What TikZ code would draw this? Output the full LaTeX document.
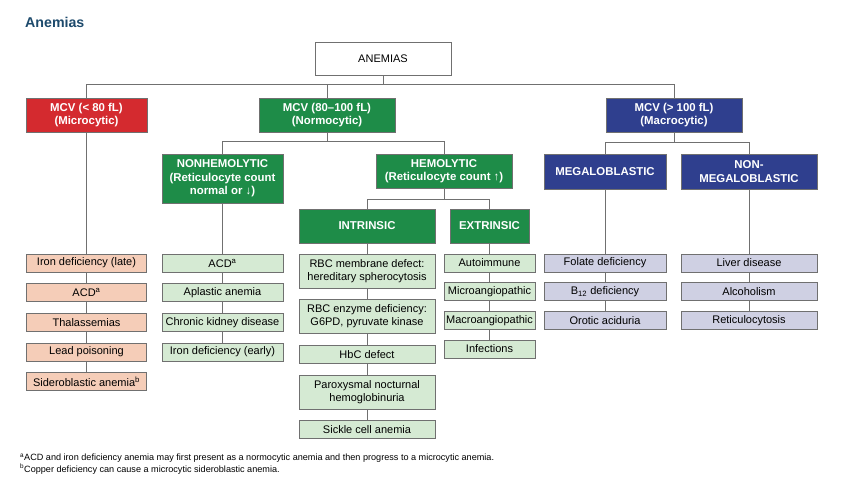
\documentclass[tikz,border=0pt]{standalone}
\usepackage{fontspec}
\setmainfont{Liberation Sans}
\usetikzlibrary{positioning, calc, backgrounds}

\definecolor{micred}{RGB}{212,42,47}
\definecolor{norgreen}{RGB}{30,140,72}
\definecolor{macblue}{RGB}{47,63,142}
\definecolor{micfill}{RGB}{245,205,184}
\definecolor{norfill}{RGB}{213,234,211}
\definecolor{macfill}{RGB}{207,208,227}
\definecolor{edgegray}{RGB}{112,112,112}
\definecolor{titleblue}{RGB}{29,74,108}

\begin{document}
\begin{tikzpicture}[
  x=1pt, y=-1pt,
  font=\fontsize{11}{13}\selectfont,
  node distance=11pt,
  box/.style={rectangle, draw=edgegray, line width=0.6pt, align=center,
              inner xsep=0.5pt, inner ysep=1pt},
  hdr/.style={box, text=white, font=\fontsize{11.4}{13.5}\selectfont\bfseries,
              minimum height=34pt},
  micbox/.style={hdr, fill=micred},
  norbox/.style={hdr, fill=norgreen},
  macbox/.style={hdr, fill=macblue},
  item/.style={box, minimum height=18pt},
  micitem/.style={item, fill=micfill, minimum width=120pt},
  noritem/.style={item, fill=norfill},
  macitem/.style={item, fill=macfill},
  conn/.style={draw=edgegray, line width=0.7pt},
]
\useasboundingbox (0,0) rectangle (844,487);
\node (title) [anchor=west, inner sep=0pt, text=titleblue,
  font=\fontsize{14.2}{16}\selectfont\bfseries] at (25,22) {Anemias};
% top level
\node (anemias) [box, fill=white, minimum width=136pt, minimum height=33pt]
  at (383,58.5) {ANEMIAS};
\node (micro) [micbox, minimum width=121pt] at (86.5,115)
  {MCV (< 80 fL)\\(Microcytic)};
\node (normo) [norbox, minimum width=136pt] at (327,115)
  {MCV (80--100 fL)\\(Normocytic)};
\node (macro) [macbox, minimum width=136pt] at (674,115)
  {MCV (> 100 fL)\\(Macrocytic)};
% second level
\node (nonhemo) [norbox, minimum width=121pt, minimum height=49pt]
  at (222.5,178.5) {NONHEMOLYTIC\\(Reticulocyte count\\normal or ↓)};
\node (hemo) [norbox, minimum width=136pt] at (444,171)
  {HEMOLYTIC\\(Reticulocyte count ↑)};
\node (intrinsic) [norbox, minimum width=136pt] at (367,226) {INTRINSIC};
\node (extrinsic) [norbox, minimum width=79pt] at (489.5,226) {EXTRINSIC};
\node (mega) [macbox, minimum width=122pt, minimum height=35pt]
  at (605,171.5) {MEGALOBLASTIC};
\node (nonmega) [macbox, minimum width=136pt, minimum height=35pt]
  at (749,171.5) {NON-\\MEGALOBLASTIC};
% microcytic list
\node (mic1) [micitem] at (86.5,263) {Iron deficiency (late)};
\node (mic2) [micitem, below=of mic1] {ACD\textsuperscript{a}};
\node (mic3) [micitem, below=of mic2] {Thalassemias};
\node (mic4) [micitem, below=of mic3] {Lead poisoning};
\node (mic5) [micitem, below=of mic4] {Sideroblastic anemia\textsuperscript{b}};
% nonhemolytic list
\node (non1) [noritem, minimum width=121pt] at (222.5,263) {ACD\textsuperscript{a}};
\node (non2) [noritem, minimum width=121pt, below=of non1] {Aplastic anemia};
\node (non3) [noritem, minimum width=121pt, below=of non2] {Chronic kidney disease};
\node (non4) [noritem, minimum width=121pt, below=of non3] {Iron deficiency (early)};
% intrinsic list
\node (int1) [noritem, minimum width=136pt, minimum height=34pt] at (367,271)
  {RBC membrane defect:\\hereditary spherocytosis};
\node (int2) [noritem, minimum width=136pt, minimum height=34pt, below=of int1]
  {RBC enzyme deficiency:\\G6PD, pyruvate kinase};
\node (int3) [noritem, minimum width=136pt, below=of int2] {HbC defect};
\node (int4) [noritem, minimum width=136pt, minimum height=34pt, below=of int3]
  {Paroxysmal nocturnal\\hemoglobinuria};
\node (int5) [noritem, minimum width=136pt, below=of int4] {Sickle cell anemia};
% extrinsic list
\node (ext1) [noritem, minimum width=91pt] at (489.5,263) {Autoimmune};
\node (ext2) [noritem, minimum width=91pt, below=10pt of ext1] {Microangiopathic};
\node (ext3) [noritem, minimum width=91pt, below=10pt of ext2] {Macroangiopathic};
\node (ext4) [noritem, minimum width=91pt, below=10pt of ext3] {Infections};
% megaloblastic / non-megaloblastic lists
\node (meg1) [macitem, minimum width=122pt] at (605,263) {Folate deficiency};
\node (meg2) [macitem, minimum width=122pt, below=10pt of meg1]
  {B\textsubscript{12} deficiency};
\node (meg3) [macitem, minimum width=122pt, below=10pt of meg2] {Orotic aciduria};
\node (nmg1) [macitem, minimum width=136pt] at (749,263) {Liver disease};
\node (nmg2) [macitem, minimum width=136pt, below=10pt of nmg1] {Alcoholism};
\node (nmg3) [macitem, minimum width=136pt, below=10pt of nmg2] {Reticulocytosis};
% footnotes
\node (notes) [anchor=north west, align=left, inner sep=0pt,
  font=\fontsize{9.1}{11.8}\selectfont] at (20,453.5)
  {\textsuperscript{a}ACD and iron deficiency anemia may first present as a
   normocytic anemia and then progress to a microcytic anemia.\\
   \textsuperscript{b}Copper deficiency can cause a microcytic sideroblastic anemia.};
% branches
\coordinate (bus) at ($(anemias.south)+(0,9.5)$);
\draw [conn] (anemias.south) -- (bus);
\draw [conn] (micro.north) |- (bus) -| (macro.north);
\draw [conn] (normo.north) -- (normo.north |- bus);
\coordinate (nbus) at ($(normo.south)+(0,9)$);
\draw [conn] (normo.south) -- (nbus);
\draw [conn] (nonhemo.north) |- (nbus) -| (hemo.north);
\coordinate (hbus) at ($(hemo.south)+(0,11)$);
\draw [conn] (hemo.south) -- (hbus);
\draw [conn] (intrinsic.north) |- (hbus) -| (extrinsic.north);
\coordinate (mbus) at ($(macro.south)+(0,10)$);
\draw [conn] (macro.south) -- (mbus);
\draw [conn] (mega.north) |- (mbus) -| (nonmega.north);
% column lines behind the lists
\begin{scope}[on background layer]
\draw [conn] (micro.south) -- (mic5.north);
\draw [conn] (nonhemo.south) -- (non4.north);
\draw [conn] (intrinsic.south) -- (int5.north);
\draw [conn] (extrinsic.south) -- (ext4.north);
\draw [conn] (mega.south) -- (meg3.north);
\draw [conn] (nonmega.south) -- (nmg3.north);
\end{scope}
\end{tikzpicture}
\end{document}
